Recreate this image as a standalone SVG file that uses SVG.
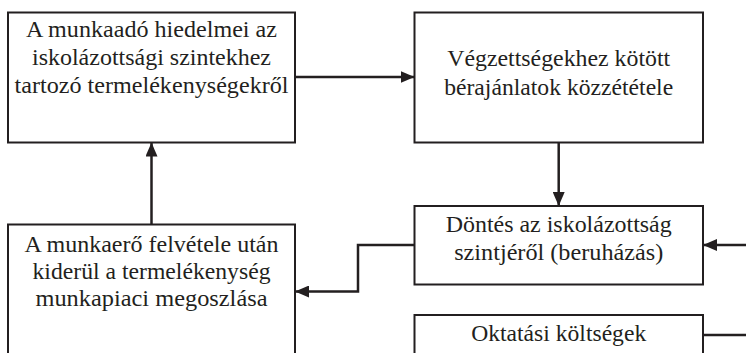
<svg xmlns="http://www.w3.org/2000/svg" width="746" height="353" viewBox="0 0 746 353">
<style>
.box{fill:#fff;stroke:#231f20;stroke-width:2}
.t{font-family:'Liberation Serif','DejaVu Serif',serif;font-size:24px;fill:#231f20;text-anchor:middle}
.c{fill:none;stroke:#231f20;stroke-width:2.5}
</style>
<defs>
<marker id="ah" viewBox="0 0 14 12" refX="14" refY="6" markerWidth="14" markerHeight="12" markerUnits="userSpaceOnUse" orient="auto">
<path d="M0,0 L14,6 L0,12 Z" fill="#231f20"/>
</marker>
</defs>
<rect width="746" height="353" fill="#fff"/>
<g id="n1">
<rect class="box" x="8" y="12.5" width="287" height="130"/>
<text class="t" x="151.5" y="37" textLength="251" lengthAdjust="spacingAndGlyphs">A munkaadó hiedelmei az</text>
<text class="t" x="151.5" y="65" textLength="239" lengthAdjust="spacingAndGlyphs">iskolázottsági szintekhez</text>
<text class="t" x="151.5" y="93" textLength="274" lengthAdjust="spacingAndGlyphs">tartozó termelékenységekről</text>
</g>
<g id="n2">
<rect class="box" x="414.5" y="12.5" width="288.5" height="130"/>
<text class="t" x="558.7" y="66" textLength="223" lengthAdjust="spacingAndGlyphs">Végzettségekhez kötött</text>
<text class="t" x="558.7" y="95" textLength="229" lengthAdjust="spacingAndGlyphs">bérajánlatok közzététele</text>
</g>
<g id="n3">
<rect class="box" x="414.5" y="206" width="288.5" height="78.5"/>
<text class="t" x="558.7" y="232" textLength="226" lengthAdjust="spacingAndGlyphs">Döntés az iskolázottság</text>
<text class="t" x="558.7" y="260" textLength="209" lengthAdjust="spacingAndGlyphs">szintjéről (beruházás)</text>
</g>
<g id="n4">
<rect class="box" x="8" y="224.5" width="287" height="140"/>
<text class="t" x="151.5" y="251.5" textLength="254" lengthAdjust="spacingAndGlyphs">A munkaerő felvétele után</text>
<text class="t" x="151.5" y="279" textLength="238" lengthAdjust="spacingAndGlyphs">kiderül a termelékenység</text>
<text class="t" x="151.5" y="306" textLength="232" lengthAdjust="spacingAndGlyphs">munkapiaci megoszlása</text>
</g>
<g id="n5">
<rect class="box" x="414.5" y="315" width="288.5" height="50"/>
<text class="t" x="558.7" y="341" textLength="175" lengthAdjust="spacingAndGlyphs">Oktatási költségek</text>
</g>
<g id="connectors">
<line class="c" x1="295" y1="77" x2="414.5" y2="77" marker-end="url(#ah)"/>
<line class="c" x1="558.7" y1="142.5" x2="558.7" y2="206" marker-end="url(#ah)"/>
<line class="c" x1="746" y1="245" x2="703" y2="245" marker-end="url(#ah)"/>
<polyline class="c" points="414.5,245 358,245 358,291.5 295,291.5" marker-end="url(#ah)"/>
<line class="c" x1="151.5" y1="224.5" x2="151.5" y2="142.5" marker-end="url(#ah)"/>
<line class="c" x1="703" y1="335" x2="746" y2="335"/>
</g>
</svg>
